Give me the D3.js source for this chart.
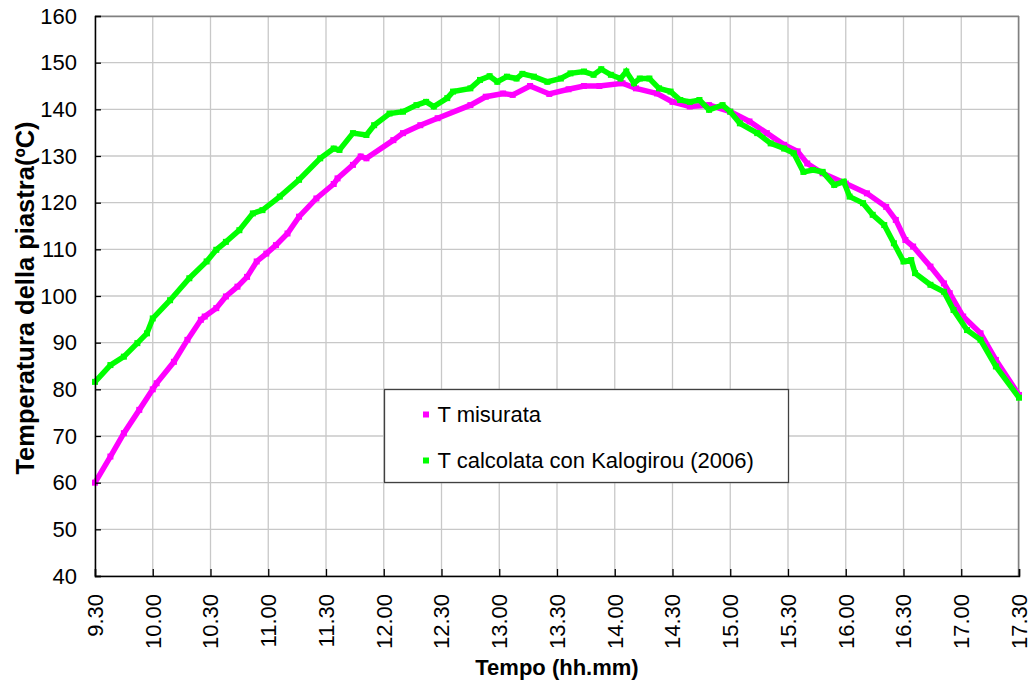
<!DOCTYPE html>
<html>
<head>
<meta charset="utf-8">
<script src="https://cdn.jsdelivr.net/npm/d3@7/dist/d3.min.js"></script>
<style>
  html, body { margin: 0; padding: 0; background: #fff; }
  svg { display: block; font-family: "Liberation Sans", Arial, sans-serif; }
</style>
</head>
<body>
<svg id="chart" width="1029" height="686"></svg>
<script>
// Plate temperature over the day: measured vs. computed (Kalogirou 2006)
const seriesNames = ["T misurata", "T calcolata con Kalogirou (2006)"];
const seriesColors = ["#ff00ff", "#00ff00"];

const timeTicks = ["9:30","10:00","10:30","11:00","11:30","12:00","12:30","13:00","13:30",
                   "14:00","14:30","15:00","15:30","16:00","16:30","17:00","17:30"];
const tempTicks = [40, 50, 60, 70, 80, 90, 100, 110, 120, 130, 140, 150, 160];

// T misurata
const measuredTime = ["9:30","9:38","9:45","9:53","10:00","10:02","10:11","10:18","10:25","10:27",
  "10:33","10:38","10:44","10:49","10:54","10:59","11:04","11:10","11:16","11:25","11:34","11:36",
  "11:44","11:48","11:51","12:05","12:10","12:19","12:28","12:45","12:53","13:02","13:07","13:16",
  "13:26","13:36","13:44","13:52","14:04","14:11","14:22","14:30","14:39","14:49","15:00","15:10",
  "15:19","15:28","15:35","15:40","15:48","16:00","16:11","16:21","16:26","16:31","16:35","16:44",
  "16:51","16:54","17:01","17:10","17:18","17:30"];
const measuredTemp = [60.0,65.6,70.6,75.6,80.0,81.3,85.9,90.6,94.9,95.6,
  97.4,99.9,102.0,104.1,107.4,109.1,110.9,113.4,117.0,120.9,124.0,125.2,
  128.1,129.9,129.5,133.4,134.9,136.6,138.1,140.9,142.7,143.4,143.1,145.0,
  143.3,144.3,145.0,145.0,145.6,144.5,143.4,141.6,140.6,140.9,139.5,137.4,
  134.9,132.4,131.0,128.4,126.3,124.1,122.0,119.1,116.3,112.0,110.6,106.3,
  102.7,100.6,95.6,92.0,86.3,78.8];

// T calcolata con Kalogirou (2006)
const computedTime = ["9:30","9:38","9:45","9:52","9:57","10:00","10:09","10:19","10:28","10:33",
  "10:38","10:45","10:52","10:57","11:06","11:16","11:27","11:34","11:37","11:44","11:51","11:55",
  "12:03","12:10","12:17","12:22","12:26","12:33","12:36","12:45","12:50","12:55","12:59","13:04",
  "13:09","13:12","13:18","13:25","13:32","13:37","13:44","13:49","13:53","13:58","14:03","14:06",
  "14:10","14:13","14:18","14:23","14:29","14:34","14:39","14:44","14:49","14:56","15:00","15:05",
  "15:14","15:21","15:28","15:33","15:38","15:43","15:48","15:54","15:59","16:02","16:09","16:14",
  "16:20","16:25","16:30","16:34","16:36","16:44","16:51","16:56","17:03","17:10","17:18","17:30"];
const computedTemp = [81.6,85.2,87.0,89.9,92.0,95.2,99.1,103.8,107.4,109.9,
  111.6,114.1,117.7,118.4,121.3,124.9,129.5,131.6,131.3,134.9,134.5,136.6,
  139.1,139.5,140.9,141.6,140.6,142.4,143.8,144.5,146.3,147.1,145.9,147.0,
  146.6,147.6,147.0,145.9,146.6,147.7,148.1,147.4,148.6,147.4,146.6,148.1,
  145.6,146.6,146.6,144.5,143.8,142.0,141.6,142.0,139.9,140.9,139.5,137.0,
  134.9,132.7,131.6,130.6,126.6,127.0,126.6,123.8,124.5,121.3,119.9,117.4,
  115.2,111.3,107.4,107.7,104.9,102.4,100.9,97.0,92.7,90.6,84.9,78.2];

const W = 1029, H = 686;
const margin = { left: 95, top: 16, right: 10, bottom: 110 };
const plotW = W - margin.left - margin.right;   // 924
const plotH = H - margin.top - margin.bottom;   // 560
const tickFont = 22;

const parseClock = s => {
  const [h, m] = s.split(":").map(Number);
  return new Date(2000, 0, 1, h, m);
};
const fmtClock = d3.timeFormat("%-H.%M");

const x = d3.scaleTime()
  .domain([parseClock("9:30"), parseClock("17:30")])
  .range([0, plotW]);
const y = d3.scaleLinear().domain([40, 160]).range([plotH, 0]);

const svg = d3.select("#chart");
const g = svg.append("g").attr("transform", `translate(${margin.left},${margin.top})`);

// gridlines
g.append("g").selectAll("line").data(tempTicks).join("line")
  .attr("x1", 0).attr("x2", plotW)
  .attr("y1", d => y(d)).attr("y2", d => y(d))
  .attr("stroke", "#c8c8c8").attr("stroke-width", 1.3);
g.append("g").selectAll("line").data(timeTicks.map(parseClock)).join("line")
  .attr("x1", d => x(d)).attr("x2", d => x(d))
  .attr("y1", 0).attr("y2", plotH)
  .attr("stroke", "#c8c8c8").attr("stroke-width", 1.3);

// frame: top and right in gray
g.append("line").attr("x1", 0).attr("x2", plotW).attr("y1", 0.5).attr("y2", 0.5)
  .attr("stroke", "#808080").attr("stroke-width", 1.5);
g.append("line").attr("x1", plotW - 0.5).attr("x2", plotW - 0.5).attr("y1", 0).attr("y2", plotH)
  .attr("stroke", "#808080").attr("stroke-width", 1.5);

// series
const series = [
  { name: seriesNames[0], color: seriesColors[0], times: measuredTime, temps: measuredTemp },
  { name: seriesNames[1], color: seriesColors[1], times: computedTime, temps: computedTemp }
];
const line = d3.line().x(d => x(d.t)).y(d => y(d.v));
const mk = 6;
series.forEach(s => {
  const pts = s.times.map((t, i) => ({ t: parseClock(t), v: s.temps[i] }));
  g.append("path").datum(pts)
    .attr("d", line)
    .attr("fill", "none")
    .attr("stroke", s.color)
    .attr("stroke-width", 5.5)
    .attr("stroke-linejoin", "miter");
  g.append("g").selectAll("rect").data(pts).join("rect")
    .attr("x", d => x(d.t) - mk / 2)
    .attr("y", d => y(d.v) - mk / 2)
    .attr("width", mk).attr("height", mk)
    .attr("fill", s.color);
});

// axes
const yAxis = d3.axisLeft(y).tickValues(tempTicks).tickSize(-6).tickPadding(18);
const yg = g.append("g").call(yAxis);
yg.select(".domain").attr("stroke", "#000").attr("stroke-width", 1.5);
yg.selectAll(".tick line").attr("stroke", "#000").attr("stroke-width", 1.3);
yg.selectAll(".tick text").attr("font-size", tickFont).attr("fill", "#000")
  .attr("font-family", "'Liberation Sans', Arial, sans-serif");

const xAxis = d3.axisBottom(x).tickValues(timeTicks.map(parseClock)).tickFormat(fmtClock).tickSize(-7);
const xg = g.append("g").attr("transform", `translate(0,${plotH})`).call(xAxis);
xg.select(".domain").attr("stroke", "#000").attr("stroke-width", 1.5);
xg.selectAll(".tick line").attr("stroke", "#000").attr("stroke-width", 1.3);
xg.selectAll(".tick text")
  .attr("font-size", tickFont).attr("fill", "#000")
  .attr("font-family", "'Liberation Sans', Arial, sans-serif")
  .attr("transform", "rotate(-90)")
  .attr("x", -18).attr("y", 0).attr("dy", "0.33em")
  .attr("text-anchor", "end");

// axis titles
svg.append("text")
  .attr("x", margin.left + plotW / 2).attr("y", 675)
  .attr("text-anchor", "middle")
  .attr("font-size", 22).attr("font-weight", "bold")
  .text("Tempo (hh.mm)");
svg.append("text")
  .attr("transform", "translate(33.5,298) rotate(-90)")
  .attr("text-anchor", "middle")
  .attr("font-size", 25.5).attr("font-weight", "bold")
  .text("Temperatura della piastra(ºC)");

// legend
const lg = svg.append("g").attr("transform", "translate(384.5,389.5)");
lg.append("rect").attr("width", 404).attr("height", 93)
  .attr("fill", "#fff").attr("stroke", "#404040").attr("stroke-width", 1.3);
series.forEach((s, i) => {
  const cy = 25 + i * 46;
  lg.append("rect").attr("x", 38.5).attr("y", cy - 3).attr("width", 6).attr("height", 6)
    .attr("fill", s.color);
  lg.append("text").attr("x", 53).attr("y", cy).attr("dy", "0.36em")
    .attr("font-size", tickFont).attr("fill", "#000").text(s.name);
});
</script>
</body>
</html>
